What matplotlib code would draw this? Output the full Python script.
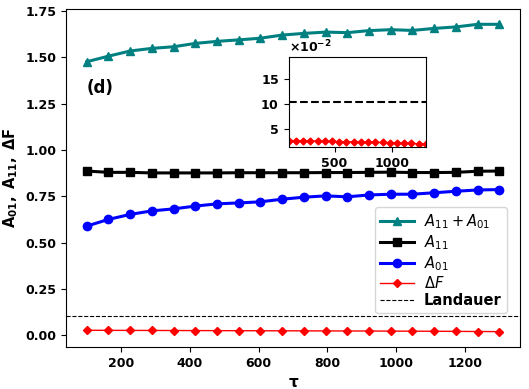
import matplotlib
matplotlib.use("Agg")
import matplotlib.pyplot as plt
from matplotlib.ticker import ScalarFormatter

tau = [100, 163, 226, 289, 353, 416, 479, 542, 605, 668,
       732, 795, 858, 921, 984, 1047, 1111, 1174, 1237, 1300]
A11 = [0.886, 0.879, 0.879, 0.876, 0.876, 0.876, 0.876, 0.877, 0.877, 0.877,
       0.877, 0.878, 0.878, 0.879, 0.880, 0.878, 0.878, 0.879, 0.885, 0.886]
A01 = [0.589, 0.625, 0.652, 0.671, 0.682, 0.697, 0.709, 0.714, 0.720, 0.734,
       0.745, 0.752, 0.747, 0.757, 0.761, 0.761, 0.769, 0.777, 0.784, 0.786]
A_sum = [1.476, 1.506, 1.534, 1.548, 1.557, 1.575, 1.586, 1.594, 1.603, 1.620,
         1.629, 1.636, 1.633, 1.644, 1.649, 1.645, 1.656, 1.664, 1.678, 1.678]
dF = [0.0266, 0.0263, 0.0260, 0.0257, 0.0254, 0.0250, 0.0247, 0.0244, 0.0241, 0.0238,
      0.0235, 0.0232, 0.0229, 0.0226, 0.0222, 0.0218, 0.0213, 0.0207, 0.0200, 0.0194]
landauer = 0.104

fig = plt.figure(figsize=(5.29, 3.89), dpi=100)
ax = fig.add_axes([0.125, 0.108, 0.858, 0.869])

ax.plot(tau, A_sum, color='#008080', marker='^', ms=6, lw=2.2, label=r'$A_{11}+A_{01}$')
ax.plot(tau, A11, color='black', marker='s', ms=5.5, lw=2.2, label=r'$A_{11}$')
ax.plot(tau, A01, color='blue', marker='o', ms=6, lw=2.2, label=r'$A_{01}$')
ax.plot(tau, dF, color='red', marker='D', ms=4.5, lw=1.0, label=r'$\Delta F$')
ax.axhline(landauer, color='black', ls='--', lw=0.8, label='Landauer')

ax.set_xticks([200, 400, 600, 800, 1000, 1200])
ax.set_yticks([0.0, 0.25, 0.5, 0.75, 1.0, 1.25, 1.5, 1.75])
for lbl in ax.get_xticklabels() + ax.get_yticklabels():
    lbl.set_fontweight('bold')
    lbl.set_fontsize(9)
ax.set_xlabel('τ', fontsize=11, fontweight='bold')
ax.set_ylabel(r'$\mathbf{A_{01},\ A_{11},\ \Delta F}$', fontsize=10.5)
ax.text(0.045, 0.765, '(d)', transform=ax.transAxes, fontsize=12, fontweight='bold',
        va='center', ha='left')

leg = ax.legend(loc='lower right', bbox_to_anchor=(0.971, 0.1), borderaxespad=0,
                fontsize=10.5, framealpha=0.8, labelspacing=0.15, borderpad=0.35,
                handlelength=2.3, handletextpad=0.7)
for t in leg.get_texts():
    if t.get_text() == 'Landauer':
        t.set_fontweight('bold')

# inset
axin = fig.add_axes([0.546, 0.622, 0.259, 0.231])
axin.plot(tau, dF, color='red', marker='D', ms=3.5, lw=1.0)
axin.axhline(landauer, color='black', ls='--', lw=1.5)
axin.set_xlim(100, 1300)
axin.set_ylim(0.0134, 0.195)
axin.set_xticks([500, 1000])
axin.set_yticks([0.05, 0.10, 0.15])
fmt = ScalarFormatter(useMathText=True)
fmt.set_powerlimits((-2, -2))
axin.yaxis.set_major_formatter(fmt)
axin.yaxis.get_offset_text().set_visible(False)
for lbl in axin.get_xticklabels() + axin.get_yticklabels():
    lbl.set_fontweight('bold')
    lbl.set_fontsize(9)
axin.text(0.0, 1.02, r'$\mathbf{\times 10^{-2}}$', transform=axin.transAxes,
          fontsize=9, ha='left', va='bottom')

fig.savefig('out.png', dpi=100)
